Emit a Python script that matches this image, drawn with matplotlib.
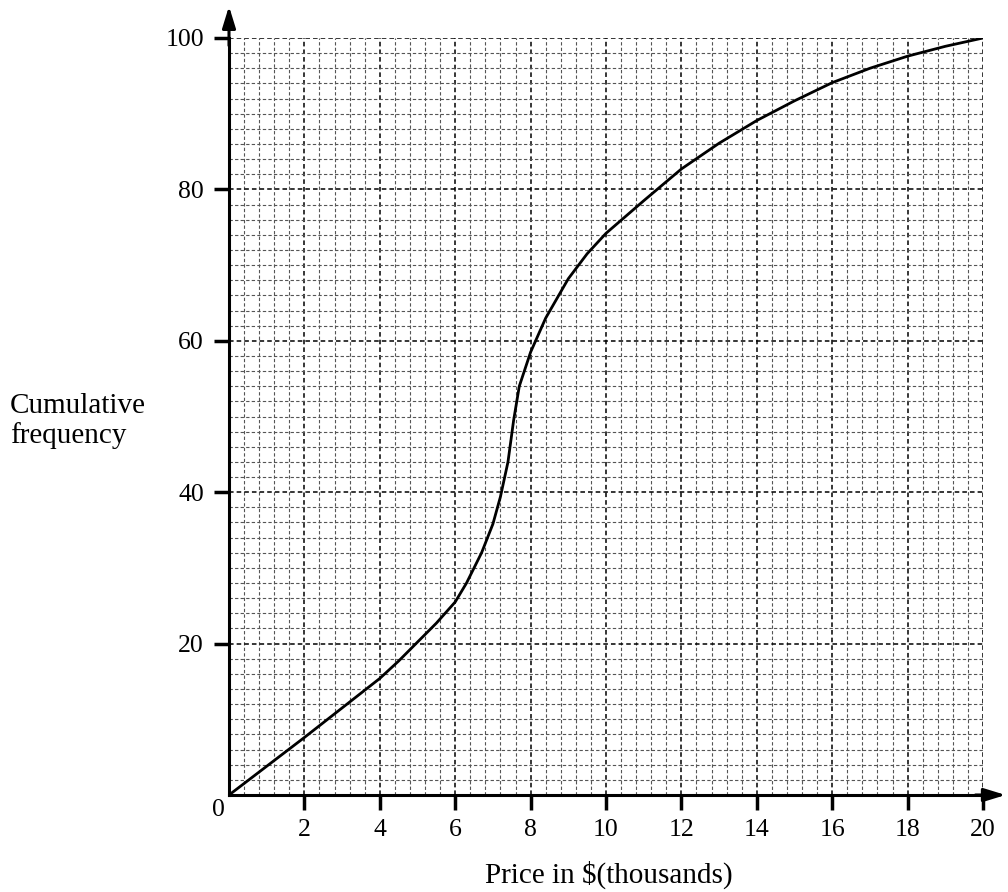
import numpy as np
import matplotlib.pyplot as plt
from matplotlib.ticker import MultipleLocator

# cumulative frequency curve
price = [0, 1, 2, 3, 4, 4.5, 5, 5.5, 6, 6.3, 6.7, 7.0, 7.2, 7.4, 7.55, 7.7, 8.0, 8.4,
         9.0, 9.5, 10, 11, 12, 13, 14, 15, 16, 17, 18, 19, 20]
cum_freq = [0, 3.8, 7.6, 11.5, 15.4, 17.7, 20.2, 22.7, 25.5, 28, 32, 35.8, 39.4, 44,
            49.5, 54, 58.5, 63, 68.2, 71.5, 74.2, 78.5, 82.7, 86.1, 89.1, 91.7, 94.1,
            96.0, 97.6, 98.9, 100]
x_ticks = [2, 4, 6, 8, 10, 12, 14, 16, 18, 20]
y_ticks = [20, 40, 60, 80, 100]

plt.rcParams['font.family'] = ['Liberation Serif', 'DejaVu Serif']

def main():
    fig = plt.figure(figsize=(10.08, 8.92), dpi=100)
    ax = fig.add_axes([229 / 1008, 97 / 892, 754 / 1008, 757 / 892])
    ax.set_xlim(0, 20)
    ax.set_ylim(0, 100)

    ax.xaxis.set_major_locator(MultipleLocator(2))
    ax.xaxis.set_minor_locator(MultipleLocator(0.4))
    ax.yaxis.set_major_locator(MultipleLocator(20))
    ax.yaxis.set_minor_locator(MultipleLocator(2))
    ax.grid(which='minor', color='#555555', linestyle=(0, (3, 2)), linewidth=0.8)
    ax.grid(which='major', color='black', linestyle=(0, (3, 2)), linewidth=1.1)

    ax.set_xticks(x_ticks)
    ax.set_yticks(y_ticks)
    ax.tick_params(which='minor', length=0)
    ax.tick_params(which='major', direction='out', length=11, width=2.5,
                   labelsize=18.5)
    ax.tick_params(axis='x', pad=6)
    ax.tick_params(axis='y', pad=7)

    for s in ['top', 'right']:
        ax.spines[s].set_visible(False)
    for s in ['left', 'bottom']:
        ax.spines[s].set_linewidth(2.2)

    ax.plot(price, cum_freq, color='black', linewidth=2, solid_joinstyle='round')

    # axis arrows
    ax.annotate('', xy=(0, 104.2), xytext=(0, 99), annotation_clip=False,
                arrowprops=dict(arrowstyle='-|>,head_length=1.3,head_width=0.4',
                                color='black', lw=2.2, shrinkA=0, shrinkB=0))
    ax.annotate('', xy=(20.6, 0), xytext=(19.8, 0), annotation_clip=False,
                arrowprops=dict(arrowstyle='-|>,head_length=1.3,head_width=0.4',
                                color='black', lw=2.2, shrinkA=0, shrinkB=0))

    ax.text(-0.12, -0.5, '0', ha='right', va='top', fontsize=18.5)
    fig.text(10 / 1008, 1 - 421 / 892, 'Cumulative\nfrequency', ha='left',
             va='center', fontsize=21, linespacing=1.15)
    fig.text(609 / 1008, 1 - 875 / 892, 'Price in $(thousands)', ha='center',
             va='center', fontsize=21)

    plt.savefig('out.png', dpi=100)

if __name__ == '__main__':
    main()
